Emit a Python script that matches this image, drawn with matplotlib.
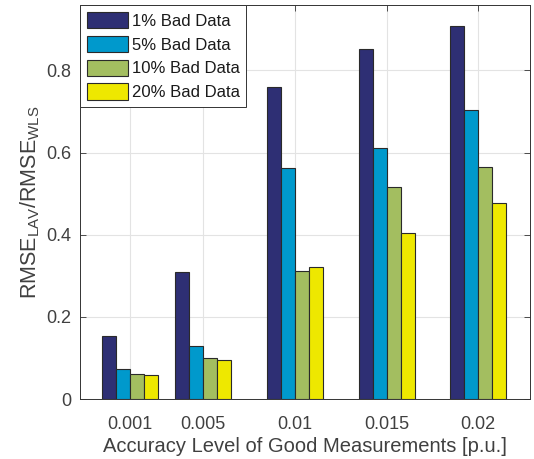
import numpy as np
import matplotlib
matplotlib.use('Agg')
import matplotlib.pyplot as plt

plt.rcParams['font.family'] = ['Liberation Sans', 'DejaVu Sans']
plt.rcParams['mathtext.fontset'] = 'custom'
plt.rcParams['mathtext.rm'] = 'Liberation Sans'
plt.rcParams['mathtext.it'] = 'Liberation Sans:italic'


# data
accuracy = [0.001, 0.005, 0.01, 0.015, 0.02]
tick_labels = ['0.001', '0.005', '0.01', '0.015', '0.02']
series = ['1% Bad Data', '5% Bad Data', '10% Bad Data', '20% Bad Data']

bad1 = [0.154, 0.309, 0.760, 0.852, 0.907]
bad5 = [0.074, 0.128, 0.562, 0.610, 0.703]
bad10 = [0.060, 0.101, 0.312, 0.515, 0.565]
bad20 = [0.058, 0.094, 0.321, 0.405, 0.476]

colors = ['#2e2f74', '#0099cc', '#a3be60', '#eee800']


fig = plt.figure(figsize=(5.34, 4.59), dpi=100)
ax = fig.add_axes([0.1498, 0.1307, 0.9925 - 0.1498, 0.989 - 0.1307])

x = np.array(accuracy)
w = 0.000763
values = [bad1, bad5, bad10, bad20]
for i, (vals, name) in enumerate(zip(values, series)):
    ax.bar(x + (i - 1.5) * w, vals, width=w, color=colors[i],
           edgecolor='#2a2a2a', linewidth=0.8, label=name, zorder=3)

ax.set_xlim(-0.001726, 0.02282)
ax.set_ylim(0, 0.959)
ax.set_xticks(accuracy)
ax.set_xticklabels(tick_labels)
ax.set_yticks([0, 0.2, 0.4, 0.6, 0.8])
ax.set_yticklabels(['0', '0.2', '0.4', '0.6', '0.8'])

ax.grid(True, color='#e3e3e3', linewidth=0.8, zorder=0)
ax.set_axisbelow(True)

for s in ax.spines.values():
    s.set_color('#333333')
    s.set_linewidth(0.7)

ax.tick_params(direction='in', length=4, width=0.6, color='#333333',
               top=True, right=True, labelsize=13, labelcolor='#404040')
ax.tick_params(axis='x', pad=12)
ax.tick_params(axis='y', pad=6)

ax.set_xlabel('Accuracy Level of Good Measurements [p.u.]', fontsize=14.5,
              color='#404040', labelpad=3)
ax.set_ylabel(r'RMSE$_{\mathrm{LAV}}$/RMSE$_{\mathrm{WLS}}$', fontsize=15.5,
              color='#404040', labelpad=3)

leg = ax.legend(loc='upper left', fontsize=12, borderaxespad=0,
                fancybox=False, framealpha=1, edgecolor='#333333',
                handlelength=2.5, handleheight=1.15, handletextpad=0.2,
                labelspacing=0.42, borderpad=0.4)
leg.get_frame().set_linewidth(0.7)
for t in leg.get_texts():
    t.set_color('#1a1a1a')

fig.savefig('out.png', dpi=100)
